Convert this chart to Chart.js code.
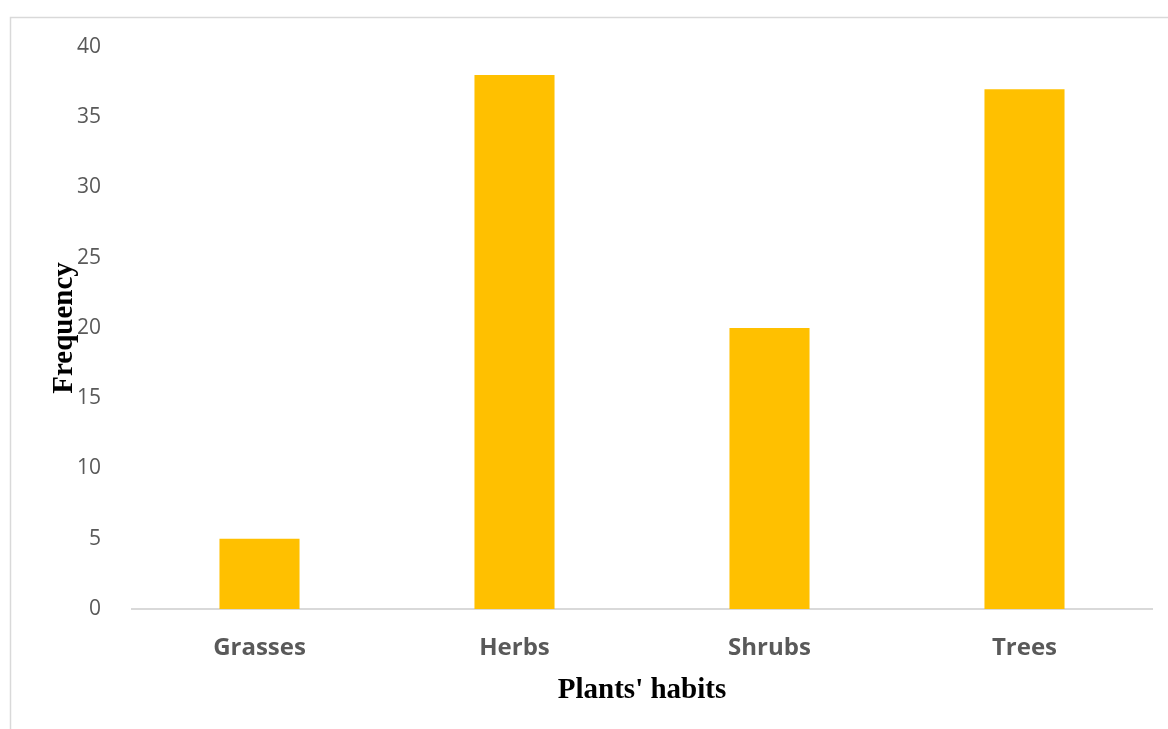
<!DOCTYPE html>
<html>
<head>
<meta charset="utf-8">
<script src="https://cdn.jsdelivr.net/npm/chart.js@4"></script>
<style>
  html, body { margin: 0; padding: 0; background: #ffffff; }
  #wrap { width: 1168px; height: 729px; position: relative; }
</style>
</head>
<body>
<div id="wrap"><canvas id="chart" width="1168" height="729"></canvas></div>
<script>
// Plant growth habits and how often each occurs
const categories = ['Grasses', 'Herbs', 'Shrubs', 'Trees'];
const frequency = [5, 38, 20, 37];
const yTicks = [0, 5, 10, 15, 20, 25, 30, 35, 40];

const xTitle = "Plants' habits";
const yTitle = 'Frequency';

// Thin light-grey frame drawn around the chart
const framePlugin = {
  id: 'frame',
  beforeDraw(chart) {
    const ctx = chart.ctx;
    ctx.save();
    ctx.strokeStyle = '#d9d9d9';
    ctx.lineWidth = 1.5;
    ctx.beginPath();
    ctx.moveTo(10.5, chart.height + 2);
    ctx.lineTo(10.5, 17.5);
    ctx.lineTo(chart.width + 2, 17.5);
    ctx.stroke();
    ctx.restore();
  }
};

new Chart(document.getElementById('chart'), {
  type: 'bar',
  data: {
    labels: categories,
    datasets: [{
      label: yTitle,
      data: frequency,
      backgroundColor: '#FFC000',
      borderWidth: 0,
      categoryPercentage: 1.0,
      barPercentage: 0.314
    }]
  },
  options: {
    responsive: false,
    animation: false,
    layout: { padding: { top: 47, right: 16, left: 0, bottom: 0 } },
    plugins: {
      legend: { display: false },
      tooltip: { enabled: false }
    },
    scales: {
      x: {
        grid: { display: false },
        border: { display: true, color: '#d9d9d9', width: 2 },
        ticks: {
          color: '#595959',
          padding: 17,
          font: { family: '"Open Sans", sans-serif', size: 24, weight: 'bold' }
        },
        title: {
          display: true,
          text: xTitle,
          color: '#000000',
          font: { family: '"Liberation Serif", "Times New Roman", serif', size: 29, weight: 'bold' },
          padding: { top: 0, bottom: 21 }
        },
        afterFit(scale) { scale.height = 120; }
      },
      y: {
        min: 0,
        max: 40,
        grid: { display: false },
        border: { display: false },
        afterBuildTicks(scale) { scale.ticks = yTicks.map(v => ({ value: v })); },
        ticks: {
          color: '#595959',
          padding: 23,
          font: { family: '"Open Sans", sans-serif', size: 21 }
        },
        title: {
          display: true,
          text: yTitle,
          color: '#000000',
          font: { family: '"Liberation Serif", "Times New Roman", serif', size: 29, weight: 'bold' },
          padding: { top: 47, bottom: 0 }
        },
        afterFit(scale) { scale.width = 132; }
      }
    }
  },
  plugins: [framePlugin]
});
</script>
</body>
</html>
